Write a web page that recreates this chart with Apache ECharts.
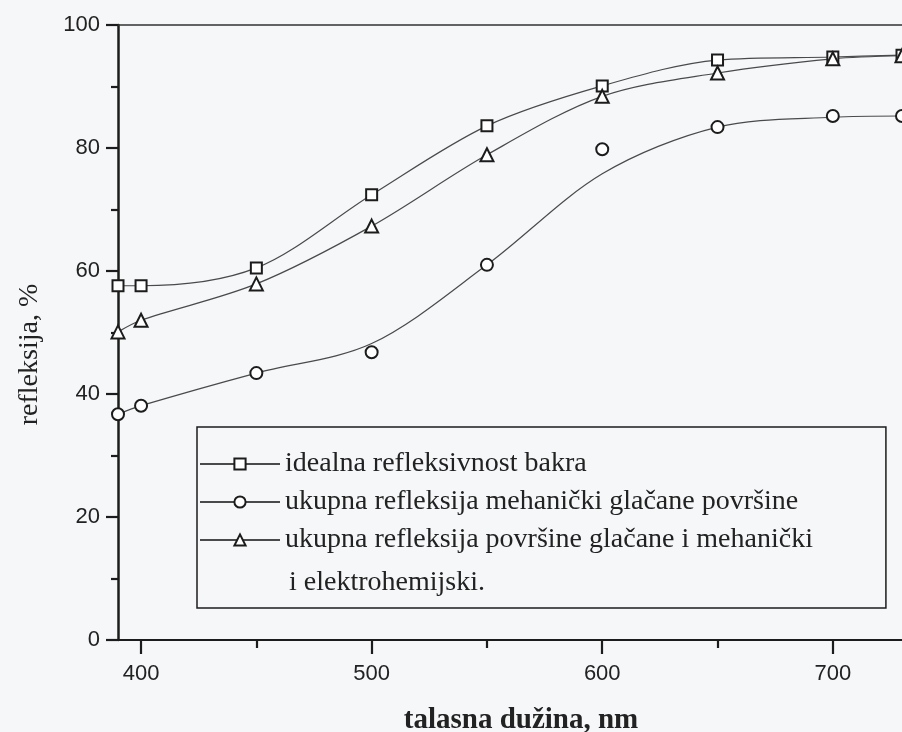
<!DOCTYPE html>
<html>
<head>
<meta charset="utf-8">
<script src="https://cdn.jsdelivr.net/npm/echarts@6/dist/echarts.min.js"></script>
<style>
  html, body { margin: 0; padding: 0; background: #f6f7f9; }
  #chart { width: 902px; height: 732px; }
</style>
</head>
<body>
<div id="chart"></div>
<script>
// ---- data ----
const wavelengths = [390, 400, 450, 500, 550, 600, 650, 700, 730];
const idealna = [57.6, 57.6, 60.5, 72.4, 83.6, 90.1, 94.3, 94.8, 95.1];
const mehanicki = [36.7, 38.1, 43.4, 46.8, 61.0, 79.8, 83.4, 85.2, 85.2];
const mehanickiCurve = [36.7, 38.1, 43.4, 48.2, 61.0, 75.8, 83.4, 85.0, 85.2];
const elektro = [50.1, 52.0, 57.9, 67.3, 78.9, 88.4, 92.2, 94.5, 95.0];
const xMajorTicks = [400, 500, 600, 700];
const xMinorTicks = [450, 550, 650];
const seriesNames = [
  'idealna refleksivnost bakra',
  'ukupna refleksija mehanički glačane površine',
  'ukupna refleksija površine glačane i mehanički',
  'i elektrohemijski.'
];
const xTitle = 'talasna dužina, nm';
const yTitle = 'refleksija, %';

const pairs = (xs, ys) => xs.map((x, i) => [x, ys[i]]);

const INK = '#1c1c1c';
const CURVE = '#4a4a4a';

const chart = echarts.init(document.getElementById('chart'), null, { renderer: 'canvas' });

const lineSeries = (name, values, symbol, size, opts) => Object.assign({
  name: name,
  type: 'line',
  xAxisIndex: 0,
  data: pairs(wavelengths, values),
  smooth: 0.32,
  symbol: symbol,
  symbolSize: size,
  showAllSymbol: true,
  clip: false,
  z: 3,
  lineStyle: { color: CURVE, width: 1.2 },
  itemStyle: { color: INK, borderColor: INK, borderWidth: 1.5 },
  emphasis: { disabled: true }
}, opts || {});

chart.setOption({
  backgroundColor: '#f6f7f9',
  animation: false,
  grid: { left: 118, right: 0, top: 25, bottom: 92, outerBoundsMode: 'none', containLabel: false },
  legend: {
    left: 197,
    top: 427,
    orient: 'vertical',
    align: 'left',
    itemWidth: 80,
    itemHeight: 14,
    itemGap: 4,
    padding: [20, 73, 3, 2],
    borderColor: INK,
    borderWidth: 1.5,
    selectedMode: false,
    textStyle: { fontFamily: 'Liberation Serif', fontSize: 28, color: '#222', lineHeight: 34 },
    data: [
      { name: seriesNames[0] },
      { name: seriesNames[1] },
      { name: seriesNames[2] },
      { name: seriesNames[3], textStyle: { lineHeight: 44, padding: [0, 0, 0, 4] } }
    ]
  },
  xAxis: [
    {
      type: 'value', position: 'bottom', min: 390, max: 730,
      name: xTitle, nameLocation: 'middle', nameGap: 66,
      nameTextStyle: { fontFamily: 'Liberation Serif', fontWeight: 'bold', fontSize: 29, color: '#222', padding: [0, 0, 0, 22] },
      axisLine: { show: true, lineStyle: { color: INK, width: 2.2 } },
      axisTick: { show: true, customValues: xMajorTicks, length: 14, lineStyle: { color: INK, width: 2.2 } },
      axisLabel: { customValues: xMajorTicks, margin: 23, fontFamily: 'Liberation Sans', fontSize: 22, color: '#222' },
      splitLine: { show: false }
    },
    {
      type: 'value', position: 'bottom', min: 390, max: 730,
      axisLine: { show: false },
      axisTick: { show: true, customValues: xMinorTicks, length: 8, lineStyle: { color: INK, width: 2.2 } },
      axisLabel: { show: false },
      splitLine: { show: false }
    },
    {
      type: 'value', position: 'top', min: 390, max: 730,
      axisLine: { show: true, lineStyle: { color: '#333', width: 1.5 } },
      axisTick: { show: false },
      axisLabel: { show: false },
      splitLine: { show: false }
    }
  ],
  yAxis: {
    type: 'value', min: 0, max: 100, interval: 20,
    name: yTitle, nameLocation: 'middle', nameGap: 74, nameRotate: 90,
    nameTextStyle: { fontFamily: 'Liberation Serif', fontSize: 28, color: '#222', padding: [0, 44, 0, 0] },
    axisLine: { show: true, lineStyle: { color: INK, width: 2.5 } },
    axisTick: { show: true, length: 12, lineStyle: { color: INK, width: 2.2 } },
    minorTick: { show: true, splitNumber: 2, length: 7, lineStyle: { color: INK, width: 2.2 } },
    axisLabel: { margin: 18, fontFamily: 'Liberation Sans', fontSize: 22, color: '#222' },
    splitLine: { show: false }
  },
  series: [
    lineSeries(seriesNames[0], idealna, 'emptyRect', 11),
    // fitted curve for the circle series (carries its legend entry; symbols hidden on the plot)
    lineSeries(seriesNames[1], mehanickiCurve, 'emptyCircle', 12, { showSymbol: false, z: 2 }),
    // measured circle points (no line)
    lineSeries('mehanicki-tocke', mehanicki, 'emptyCircle', 12, { lineStyle: { width: 0, opacity: 0 } }),
    lineSeries(seriesNames[2], elektro, 'emptyTriangle', 13),
    {
      name: seriesNames[3],
      type: 'line',
      data: [],
      symbol: 'none',
      itemStyle: { color: 'rgba(0,0,0,0)' },
      lineStyle: { color: 'rgba(0,0,0,0)' }
    }
  ]
});
</script>
</body>
</html>
